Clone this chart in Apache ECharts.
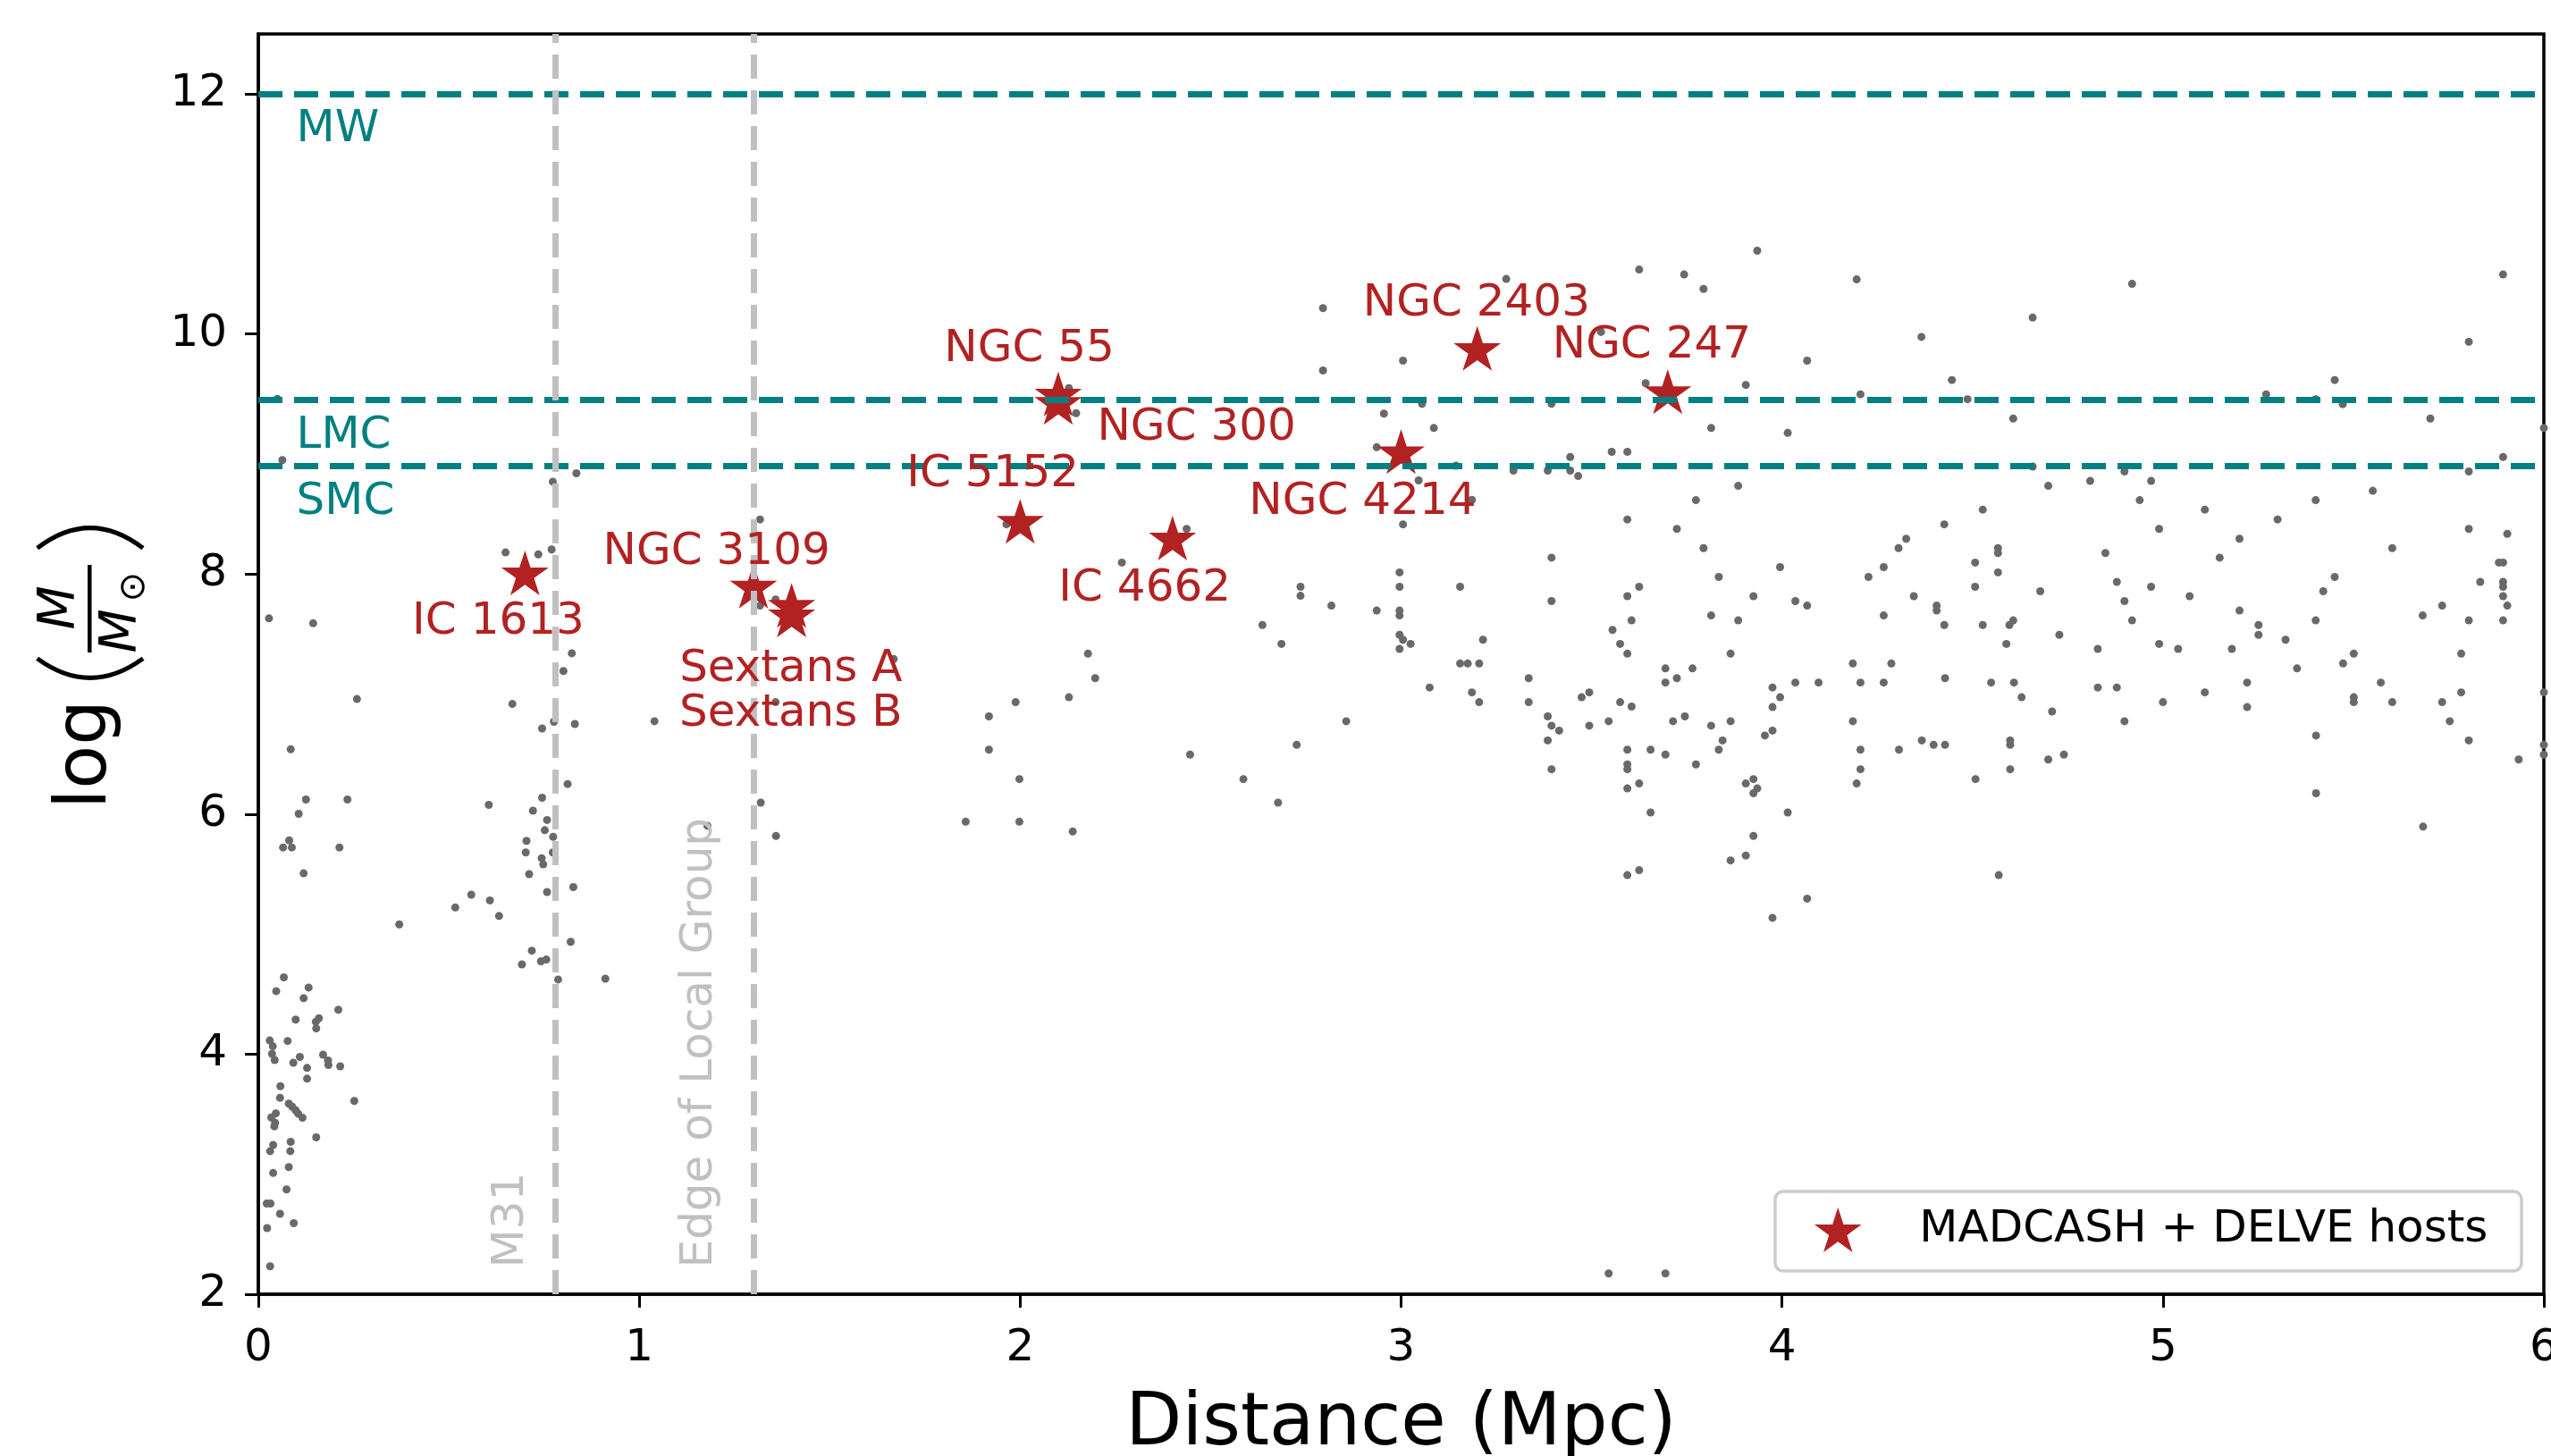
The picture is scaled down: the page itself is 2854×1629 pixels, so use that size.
<!DOCTYPE html>
<html><head><meta charset="utf-8">
<script src="https://cdn.jsdelivr.net/npm/echarts@6/dist/echarts.min.js"></script>
<style>html,body{margin:0;padding:0;background:#fff;overflow:hidden}#chart{width:2854px;height:1629px}</style>
</head><body><div id="chart"></div>
<script>
// ---------- data ----------
const xTicks = [0, 1, 2, 3, 4, 5, 6];
const yTicks = [2, 4, 6, 8, 10, 12];

// [distance (Mpc), log(M/Msun)] for the background galaxy sample
const galaxyPoints = [
[0.05,9.46],[0.063,8.95],[0.773,8.77],[0.835,8.84],[1.317,8.455],[0.649,8.18],[0.735,8.164],[0.770,8.205],[0.028,7.631],[0.144,7.59],[1.317,7.737],[1.358,7.788],
[0.823,7.34],[0.801,7.192],[0.259,6.959],[0.667,6.918],[0.776,6.77],[0.831,6.751],[0.745,6.714],[1.04,6.774],[1.668,7.292],[1.358,6.933],[1.857,5.937],[0.085,6.54],[0.125,6.122],[0.234,6.122],[0.106,6.003],[0.065,5.722],[0.081,5.781],[0.088,5.722],[0.213,5.722],[0.119,5.507],[0.605,6.077],[0.745,6.137],[0.721,6.029],[0.758,5.951],[0.752,5.866],[0.774,5.811],[0.704,5.777],[0.702,5.681],[0.773,5.681],[0.744,5.633],[0.748,5.581],[0.711,5.5],[0.812,6.251],[0.758,5.351],[0.827,5.392],[0.559,5.329],[0.517,5.222],[0.608,5.281],[0.632,5.151],[0.37,5.081],[0.82,4.936],[0.718,4.862],[0.742,4.774],[0.756,4.788],[0.692,4.748],[0.787,4.622],[0.911,4.629],[1.319,6.096],[1.359,5.818],[1.179,5.903],
[0.067,4.64],[0.047,4.525],[0.132,4.555],[0.119,4.466],[0.21,4.37],[0.098,4.288],[0.151,4.27],[0.159,4.299],[0.152,4.214],[0.03,4.114],[0.038,4.066],[0.077,4.11],[0.036,4.003],[0.043,3.951],[0.092,3.929],[0.109,3.977],[0.17,3.996],[0.183,3.947],[0.184,3.91],[0.215,3.899],[0.128,3.885],[0.128,3.796],[0.058,3.733],[0.057,3.636],[0.252,3.61],[0.08,3.588],[0.089,3.562],[0.098,3.533],[0.105,3.503],[0.116,3.47],[0.046,3.507],[0.034,3.473],[0.044,3.429],[0.042,3.399],[0.152,3.307],[0.085,3.27],[0.084,3.192],[0.039,3.244],[0.031,3.192],[0.08,3.059],[0.039,3.01],[0.074,2.873],[0.022,2.755],[0.032,2.755],[0.057,2.67],[0.093,2.592],[0.023,2.551],[0.031,2.233],
[3.625,10.537],[3.743,10.496],[3.276,10.459],[2.795,10.216],[2.795,9.696],[3.005,9.778],[3.525,10.017],[3.642,9.59],[2.128,9.549],[2.147,9.34],[3.395,9.419],[3.055,9.419],[2.955,9.337],[3.086,9.217],[3.553,9.019],[3.594,9.019],[2.936,9.057],[3.444,8.975],[3.444,8.862],[3.465,8.817],[3.385,8.862],[3.295,8.862],[3.144,8.903],[3.046,8.78],[3.186,8.619],[3.774,8.616],[3.594,8.455],[3.724,8.376],[3.005,8.414],[1.964,8.414],[2.437,8.376],[2.267,8.096],[3.395,8.137],[2.736,7.894],[2.736,7.819],[2.996,8.014],[2.996,7.894],[3.155,7.894],[3.625,7.894],[3.594,7.816],[3.395,7.775],[2.817,7.737],[2.936,7.696],[2.996,7.696],[2.996,7.655],[3.605,7.614],[2.636,7.576],[3.555,7.535],[2.996,7.494],[3.005,7.453],[3.215,7.453],
[1.918,6.814],[1.918,6.537],[1.988,6.933],[1.998,6.292],[1.998,5.937],[2.128,6.974],[2.138,5.855],[2.178,7.337],[2.197,7.133],[2.446,6.496],[2.586,6.292],[2.677,6.096],[2.726,6.577],[2.856,6.774],[2.686,7.418],[3.025,7.418],[2.996,7.377],[3.075,7.055],[3.155,7.255],[3.175,7.255],[3.205,7.255],[3.186,7.014],[3.205,6.933],[3.335,7.133],[3.335,6.933],[3.385,6.814],[3.395,6.737],[3.415,6.696],[3.385,6.614],[3.395,6.374],[3.474,6.974],[3.494,7.014],[3.494,6.737],[3.545,6.774],[3.575,7.418],[3.594,7.337],[3.575,6.933],[3.605,6.896],[3.594,6.537],[3.594,6.414],[3.594,6.374],[3.594,6.214],[3.625,6.255],[3.655,6.537],[3.694,6.496],[3.655,6.014],[3.694,7.214],[3.694,7.096],[3.724,7.133],[3.765,7.214],[3.714,6.774],[3.745,6.814],[3.774,6.414],[3.594,5.492],[3.625,5.533],[3.545,2.173],[3.694,2.173],
[3.935,10.694],[3.794,10.376],[4.196,10.455],[4.919,10.418],[5.893,10.496],[4.658,10.137],[4.366,9.976],[4.066,9.778],[5.803,9.935],[3.905,9.576],[4.206,9.498],[4.446,9.617],[4.487,9.457],[3.814,9.217],[4.015,9.176],[4.607,9.296],[5.271,9.498],[5.401,9.457],[5.451,9.617],[5.472,9.416],[5.702,9.296],[6.0,9.217],[3.885,8.735],[4.658,8.896],[4.699,8.735],[4.809,8.776],[4.899,8.855],[4.969,8.776],[4.939,8.616],[5.803,8.855],[5.893,8.975],[5.551,8.694],[5.401,8.616],[4.527,8.537],[5.11,8.537],[5.301,8.455],[4.426,8.414],[4.99,8.376],[5.201,8.294],[4.326,8.294],[4.306,8.216],[3.794,8.216],[4.567,8.216],[4.567,8.175],[4.849,8.175],[5.602,8.216],[5.803,8.376],[5.904,8.335],[5.149,8.137],[3.995,8.058],[4.267,8.058],[4.507,8.096],[3.834,7.976],[4.227,7.976],[4.567,8.014],[4.879,7.935],[4.969,7.894],[4.507,7.894],[5.451,7.976],[5.421,7.857],[5.882,8.096],[5.893,8.096],[5.833,7.935],[5.893,7.935],[5.893,7.894],[5.893,7.816],[5.904,7.737],[3.925,7.816],[4.035,7.775],[4.066,7.737],[4.346,7.816],[4.406,7.737],[4.406,7.696],[4.678,7.857],[4.899,7.775],[5.07,7.816],[3.814,7.655],[3.885,7.614],[4.267,7.655],[4.426,7.576],[4.527,7.576],[4.597,7.576],[4.607,7.614],[4.919,7.614],[5.201,7.696],[5.251,7.576],[5.251,7.494],[5.322,7.453],[5.401,7.614],[5.682,7.655],[5.733,7.737],[5.803,7.614],[5.893,7.614],[4.728,7.494],
[3.865,7.337],[3.814,6.737],[3.844,6.614],[3.834,6.537],[3.865,6.774],[3.905,6.255],[3.925,6.292],[3.935,6.214],[3.925,6.174],[3.925,5.818],[3.905,5.655],[3.865,5.614],[3.955,6.655],[3.975,6.696],[3.975,6.892],[3.995,6.974],[3.975,7.055],[4.015,6.014],[3.975,5.136],[4.066,5.296],[4.035,7.096],[4.096,7.096],[4.186,7.255],[4.206,7.096],[4.287,7.255],[4.267,7.096],[4.186,6.774],[4.206,6.537],[4.206,6.374],[4.196,6.255],[4.307,6.537],[4.367,6.614],[4.398,6.577],[4.428,6.577],[4.428,7.133],[4.589,7.418],[4.549,7.096],[4.609,7.096],[4.629,6.974],[4.709,6.855],[4.599,6.614],[4.599,6.577],[4.599,6.374],[4.699,6.455],[4.74,6.496],[4.508,6.292],[4.569,5.492],[4.829,7.377],[4.829,7.055],[4.879,7.055],[4.899,6.774],[4.99,7.418],[5.04,7.377],[5.0,6.933],[5.11,7.014],[5.181,7.377],[5.221,7.096],[5.221,6.892],[5.352,7.214],[5.402,6.655],[5.402,6.174],[5.473,7.255],[5.501,7.337],[5.501,6.974],[5.501,6.933],[5.572,7.096],[5.602,6.933],[5.733,6.933],[5.783,7.337],[5.783,7.014],[5.753,6.774],[5.803,6.614],[5.683,5.896],[5.934,6.455],[6.0,7.014],[6.0,6.577],[6.0,6.496]
];

// MADCASH + DELVE hosts
const hostNames     = ['IC 1613','NGC 3109','Sextans A','Sextans B','NGC 55','NGC 300','IC 5152','IC 4662','NGC 4214','NGC 2403','NGC 247'];
const hostDistances = [0.70, 1.30, 1.40, 1.40, 2.10, 2.10, 2.00, 2.40, 3.00, 3.20, 3.70];
const hostMasses    = [8.01, 7.90, 7.74, 7.66, 9.50, 9.43, 8.44, 8.30, 9.02, 9.88, 9.52];
// label anchors (data coordinates of each text centre)
const hostLabelX    = [0.630, 1.203, 1.398, 1.398, 2.024, 2.463, 1.928, 2.327, 2.899, 3.198, 3.658];
const hostLabelY    = [7.637, 8.217, 7.246, 6.870, 9.908, 9.252, 8.865, 7.914, 8.636, 10.29, 9.94];

// reference masses (horizontal lines) and distances (vertical lines)
const refMassNames  = ['MW', 'LMC', 'SMC'];
const refMassValues = [12.0, 9.45, 8.9];
const refDistNames  = ['M31', 'Edge of Local Group'];
const refDistValues = [0.78, 1.30];
const refDistLabelX = [0.664, 1.160];

// ---------- styling ----------
const FONT = '"DejaVu Sans", "Noto Sans", sans-serif';
const TEAL = '#008080', FIRE = '#b22222', SILVER = '#c0c0c0', DOT = '#696969';
const starPath = 'path://M50 0 L61.23 34.55 L97.55 34.55 L68.17 55.9 L79.39 90.45 L50 69.1 L20.61 90.45 L31.83 55.9 L2.45 34.55 L38.77 34.55 Z';
const LEGEND_NAME = 'MADCASH + DELVE hosts';
// text is drawn with its em-box centred on the anchor; nudge so the glyph ink is centred instead
const INK_NUDGE = 0.039;   // in log(M) units (about 5 px)

const chart = echarts.init(document.getElementById('chart'), null, {renderer: 'canvas'});

const axisLineStyle = {show: true, lineStyle: {color: '#000', width: 3.5}};
function tickStyle(vals) {
  return {show: true, inside: false, length: 15, lineStyle: {color: '#000', width: 3}, customValues: vals};
}
function textSeries(name, data, color, extra) {
  return {
    name: name, type: 'scatter', z: 5, silent: true,
    symbol: 'circle', symbolSize: 1,
    itemStyle: {color: 'rgba(0,0,0,0)', opacity: 1},
    label: Object.assign({show: true, position: 'inside', formatter: '{b}', fontSize: 50, fontFamily: FONT, color: color, opacity: 1}, extra),
    emphasis: {disabled: true},
    labelLayout: {hideOverlap: false},
    data: data
  };
}

const option = {
  animation: false,
  backgroundColor: '#fff',
  grid: {left: 289, right: 8, top: 38, bottom: 181, show: true, borderColor: '#000', borderWidth: 3.5,
         backgroundColor: 'transparent', containLabel: false, outerBoundsMode: 'none'},
  xAxis: {
    type: 'value', min: 0, max: 6, interval: 1,
    name: 'Distance (Mpc)', nameLocation: 'middle', nameGap: 106,
    nameTextStyle: {fontSize: 82, fontFamily: FONT, color: '#000'},
    axisLine: axisLineStyle, axisTick: tickStyle(xTicks), splitLine: {show: false},
    axisLabel: {fontSize: 50, fontFamily: FONT, color: '#000', margin: 36, customValues: xTicks},
  },
  yAxis: {
    type: 'value', min: 2, max: 12.5, interval: 2,
    axisLine: axisLineStyle, axisTick: tickStyle(yTicks), splitLine: {show: false},
    axisLabel: {fontSize: 50, fontFamily: FONT, color: '#000', margin: 35, padding: [12, 0, 0, 0], customValues: yTicks},
  },
  legend: {
    show: true, left: 2030, top: 1351, padding: 0, orient: 'horizontal',
    itemWidth: 172, itemHeight: 50, symbolKeepAspect: true,
    textStyle: {fontSize: 50, fontFamily: FONT, color: '#000'},
    itemStyle: {opacity: 1},
    data: [{name: LEGEND_NAME, icon: starPath, itemStyle: {color: FIRE, opacity: 1}}],
    selectedMode: false, z: 6
  },
  graphic: [
    // legend frame
    {type: 'rect', z: 3, shape: {x: 1986, y: 1333, width: 835, height: 89, r: 9},
     style: {fill: 'rgba(255,255,255,0.8)', stroke: '#cccccc', lineWidth: 3.5}},
    // y-axis label: log( M / M_sun )
    {type: 'text', z: 10, x: 97.2, y: 905, rotation: Math.PI / 2,
     style: {text: 'log', font: '80px ' + FONT, fill: '#000', textAlign: 'left', textVerticalAlign: 'middle'}},
    {type: 'bezierCurve', z: 10, shape: {x1: 41.7, y1: 736.7, cpx1: 100.8, cpy1: 780, x2: 160, y2: 736.7},
     style: {fill: 'none', stroke: '#000', lineWidth: 5}},
    {type: 'bezierCurve', z: 10, shape: {x1: 41.7, y1: 613.3, cpx1: 100.8, cpy1: 568, x2: 160, y2: 613.3},
     style: {fill: 'none', stroke: '#000', lineWidth: 5}},
    {type: 'text', z: 10, x: 68.5, y: 680, rotation: Math.PI / 2,
     style: {text: 'M', font: 'italic 57px ' + FONT, fill: '#000', textAlign: 'center', textVerticalAlign: 'middle'}},
    {type: 'rect', z: 10, shape: {x: 98, y: 632, width: 4.5, height: 98}, style: {fill: '#000'}},
    {type: 'text', z: 10, x: 136.9, y: 706, rotation: Math.PI / 2,
     style: {text: 'M', font: 'italic 57px ' + FONT, fill: '#000', textAlign: 'center', textVerticalAlign: 'middle'}},
    {type: 'text', z: 10, x: 150.3, y: 656.7, rotation: Math.PI / 2,
     style: {text: '\u2299', font: '40px ' + FONT, fill: '#000', textAlign: 'center', textVerticalAlign: 'middle'}},
  ],
  series: [
    {
      name: 'refMass', type: 'scatter', data: [], z: 1, silent: true,
      markLine: {
        silent: true, symbol: ['none', 'none'], animation: false,
        label: {show: false},
        lineStyle: {color: TEAL, width: 7, type: [27, 13], cap: 'butt', opacity: 1},
        emphasis: {disabled: true},
        data: refMassValues.map(v => ({yAxis: v}))
      }
    },
    {
      name: 'refDist', type: 'scatter', data: [], z: 1, silent: true,
      markLine: {
        silent: true, symbol: ['none', 'none'], animation: false,
        label: {show: false},
        lineStyle: {color: SILVER, width: 7, type: [27, 13], cap: 'butt', opacity: 1},
        emphasis: {disabled: true},
        data: refDistValues.map(v => ({xAxis: v}))
      }
    },
    {
      name: 'galaxies', type: 'scatter', z: 2, silent: true,
      symbol: 'circle', symbolSize: 9,
      itemStyle: {color: DOT, opacity: 1},
      data: galaxyPoints
    },
    {
      name: LEGEND_NAME, type: 'scatter', z: 3, silent: true,
      symbol: starPath, symbolSize: [53, 50],
      itemStyle: {color: FIRE, opacity: 1},
      data: hostNames.map((n, i) => ({name: n, value: [hostDistances[i], hostMasses[i]]}))
    },
    textSeries('hostLabels',
      hostNames.map((n, i) => ({name: n, value: [hostLabelX[i], hostLabelY[i] - INK_NUDGE]})),
      FIRE, {align: 'center', verticalAlign: 'middle'}),
    textSeries('refMassLabels',
      refMassNames.map((n, i) => ({name: n, value: [0.1, refMassValues[i] - 0.26 - INK_NUDGE]})),
      TEAL, {align: 'left', verticalAlign: 'middle'}),
    textSeries('refDistLabels',
      refDistNames.map((n, i) => ({name: n, value: [refDistLabelX[i], 2.22]})),
      SILVER, {align: 'left', verticalAlign: 'middle', rotate: 90})
  ]
};
chart.setOption(option);
</script>
</body></html>
